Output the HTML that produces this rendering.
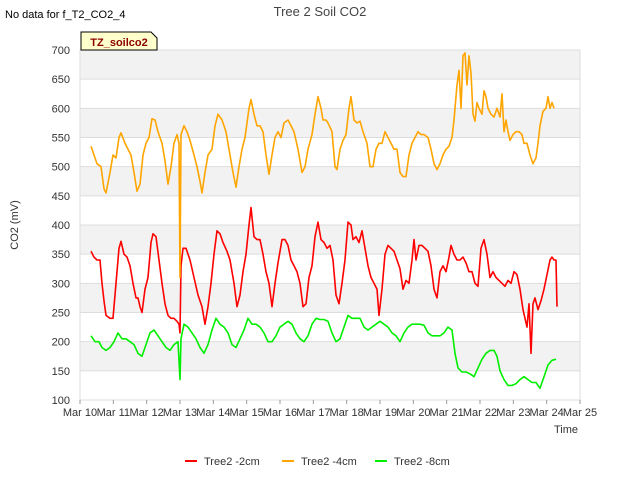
<!DOCTYPE html>
<html><head><meta charset="utf-8"><style>
body{margin:0;background:#fff;font-family:"Liberation Sans",sans-serif}
svg text{font-family:"Liberation Sans",sans-serif}
</style></head><body>
<svg id="c" width="640" height="480" xmlns="http://www.w3.org/2000/svg">
<text x="5" y="18" font-size="11" fill="#000">No data for f_T2_CO2_4</text>
<text x="320" y="16" font-size="13" fill="#444" text-anchor="middle">Tree 2 Soil CO2</text>
<g id="plot"></g>
<text transform="translate(18,225) rotate(-90)" font-size="11" fill="#333" text-anchor="middle">CO2 (mV)</text>
<text x="566" y="433" font-size="11" fill="#333" text-anchor="middle">Time</text>
<g>
<path d="M81,50 L81,32 L151,32 L157,38 L157,50 Z" fill="#ffffcc" stroke="#000" stroke-width="1"/>
<text x="119" y="46" font-size="11" font-weight="bold" fill="#8b0000" text-anchor="middle">TZ_soilco2</text>
</g>
<g id="legend"></g>
</svg>
<script>
const yTicks=[100,150,200,250,300,350,400,450,500,550,600,650,700];
const xTickLabels=["Mar 10","Mar 11","Mar 12","Mar 13","Mar 14","Mar 15","Mar 16","Mar 17","Mar 18","Mar 19","Mar 20","Mar 21","Mar 22","Mar 23","Mar 24","Mar 25"];
const seriesNames=["Tree2 -2cm","Tree2 -4cm","Tree2 -8cm"];
const seriesColors=["#ff0000","#ffa500","#00ee00"];
const s4cm=[[0.33,535],[0.51,505],[0.63,500],[0.72,462],[0.78,455],[0.9,490],[0.99,520],[1.08,515],[1.17,550],[1.23,558],[1.35,540],[1.44,530],[1.53,520],[1.62,490],[1.71,458],[1.8,470],[1.89,520],[1.98,540],[2.07,550],[2.16,582],[2.25,580],[2.34,560],[2.46,540],[2.55,510],[2.64,470],[2.73,500],[2.82,540],[2.91,555],[2.97,540],[3.0,310],[3.03,555],[3.12,570],[3.21,560],[3.3,545],[3.42,520],[3.51,500],[3.6,475],[3.66,455],[3.75,490],[3.84,520],[3.96,530],[4.05,570],[4.14,590],[4.26,580],[4.38,560],[4.47,530],[4.59,490],[4.68,465],[4.77,500],[4.86,530],[4.95,550],[5.07,600],[5.13,615],[5.22,590],[5.31,570],[5.4,570],[5.49,560],[5.58,520],[5.67,487],[5.76,520],[5.85,550],[5.94,560],[6.03,550],[6.12,575],[6.24,580],[6.33,570],[6.42,560],[6.54,530],[6.66,490],[6.75,500],[6.84,530],[6.96,555],[7.05,590],[7.14,620],[7.23,600],[7.29,580],[7.38,580],[7.44,575],[7.56,560],[7.65,500],[7.71,495],[7.8,530],[7.89,545],[7.98,555],[8.07,600],[8.13,620],[8.22,580],[8.31,575],[8.4,578],[8.49,560],[8.61,540],[8.7,500],[8.79,500],[8.88,530],[8.97,540],[9.06,540],[9.15,560],[9.24,550],[9.33,540],[9.42,530],[9.51,530],[9.6,490],[9.69,483],[9.78,483],[9.87,520],[9.96,540],[10.05,550],[10.14,560],[10.23,555],[10.32,555],[10.44,550],[10.53,530],[10.62,505],[10.71,495],[10.8,505],[10.89,520],[10.98,530],[11.07,535],[11.16,550],[11.22,580],[11.31,640],[11.37,665],[11.43,600],[11.49,690],[11.55,695],[11.61,640],[11.67,690],[11.73,660],[11.79,590],[11.85,578],[11.91,610],[11.97,600],[12.06,590],[12.12,630],[12.18,620],[12.24,600],[12.33,590],[12.42,585],[12.51,600],[12.6,585],[12.66,625],[12.72,560],[12.78,580],[12.84,560],[12.9,545],[12.99,555],[13.08,560],[13.17,560],[13.26,555],[13.32,540],[13.41,540],[13.5,520],[13.59,505],[13.68,515],[13.74,540],[13.8,570],[13.89,595],[13.98,600],[14.04,620],[14.1,600],[14.16,610],[14.22,600]];
const s2cm=[[0.33,355],[0.42,345],[0.51,340],[0.6,340],[0.66,300],[0.72,270],[0.78,245],[0.9,240],[0.99,240],[1.08,300],[1.17,360],[1.23,372],[1.32,350],[1.41,345],[1.5,330],[1.59,300],[1.68,275],[1.74,275],[1.8,260],[1.86,250],[1.95,290],[2.04,310],[2.13,370],[2.19,385],[2.28,380],[2.37,340],[2.46,300],[2.55,265],[2.64,245],[2.73,240],[2.82,240],[2.91,235],[2.97,230],[3.0,215],[3.03,330],[3.09,360],[3.18,360],[3.3,340],[3.42,310],[3.54,280],[3.66,260],[3.75,230],[3.84,260],[3.93,300],[4.02,350],[4.11,390],[4.2,385],[4.29,370],[4.41,355],[4.5,340],[4.62,300],[4.71,260],[4.8,280],[4.89,320],[4.98,350],[5.07,400],[5.13,430],[5.22,380],[5.31,375],[5.4,375],[5.49,350],[5.58,320],[5.67,300],[5.76,260],[5.85,300],[5.94,335],[6.06,375],[6.15,375],[6.24,365],[6.33,340],[6.42,330],[6.51,320],[6.6,300],[6.69,260],[6.78,265],[6.87,310],[6.96,330],[7.05,380],[7.14,405],[7.23,375],[7.32,370],[7.41,360],[7.5,365],[7.59,340],[7.68,280],[7.77,265],[7.86,300],[7.95,340],[8.04,405],[8.13,400],[8.19,375],[8.28,380],[8.37,370],[8.46,390],[8.55,360],[8.64,330],[8.73,310],[8.82,300],[8.91,290],[8.97,245],[9.06,290],[9.15,350],[9.24,365],[9.33,360],[9.42,355],[9.51,340],[9.6,325],[9.69,290],[9.78,305],[9.87,300],[9.96,340],[10.02,375],[10.08,340],[10.17,365],[10.26,365],[10.35,360],[10.44,355],[10.53,330],[10.62,290],[10.71,275],[10.8,320],[10.89,330],[10.98,320],[11.07,345],[11.13,365],[11.22,350],[11.31,340],[11.4,340],[11.49,345],[11.58,335],[11.67,320],[11.76,320],[11.85,300],[11.94,295],[12.03,360],[12.12,375],[12.21,350],[12.3,310],[12.39,320],[12.48,310],[12.57,305],[12.66,300],[12.75,295],[12.84,305],[12.93,300],[13.02,320],[13.11,315],[13.2,290],[13.29,255],[13.35,240],[13.41,225],[13.47,265],[13.53,180],[13.59,265],[13.65,275],[13.74,255],[13.83,270],[13.92,290],[14.01,315],[14.1,340],[14.16,345],[14.22,340],[14.28,340],[14.31,260]];
const s8cm=[[0.33,210],[0.45,200],[0.57,200],[0.66,190],[0.78,185],[0.9,190],[1.02,200],[1.14,215],[1.26,205],[1.38,205],[1.5,200],[1.62,195],[1.74,180],[1.86,175],[1.98,195],[2.1,215],[2.22,220],[2.34,210],[2.46,200],[2.58,190],[2.7,185],[2.82,195],[2.94,200],[3.0,135],[3.03,205],[3.12,230],[3.24,225],[3.36,215],[3.48,205],[3.6,190],[3.72,180],[3.84,195],[3.96,220],[4.08,240],[4.2,230],[4.32,225],[4.44,215],[4.56,195],[4.68,190],[4.8,205],[4.92,220],[5.04,240],[5.16,230],[5.28,230],[5.4,225],[5.52,215],[5.64,200],[5.76,200],[5.88,210],[6.0,225],[6.12,230],[6.24,235],[6.36,230],[6.48,215],[6.6,205],[6.72,200],[6.84,210],[6.96,230],[7.08,240],[7.2,238],[7.32,238],[7.44,235],[7.56,215],[7.68,200],[7.8,205],[7.92,225],[8.04,245],[8.16,240],[8.28,240],[8.4,240],[8.52,225],[8.64,220],[8.76,225],[8.88,230],[9.0,235],[9.12,230],[9.24,225],[9.36,215],[9.48,210],[9.6,200],[9.72,215],[9.84,225],[9.96,230],[10.08,230],[10.2,230],[10.32,228],[10.44,215],[10.56,210],[10.68,210],[10.8,210],[10.92,215],[11.04,225],[11.16,220],[11.25,180],[11.34,155],[11.46,148],[11.58,148],[11.7,145],[11.82,140],[11.94,155],[12.06,170],[12.18,180],[12.3,185],[12.42,185],[12.51,175],[12.6,150],[12.72,135],[12.84,125],[12.96,125],[13.08,128],[13.2,135],[13.32,140],[13.44,135],[13.56,130],[13.68,130],[13.8,120],[13.92,140],[14.04,160],[14.16,168],[14.28,170]];
const allSeries=[s2cm,s4cm,s8cm];
const NS="http://www.w3.org/2000/svg";
const L=80,R=580,T=50,B=400,yMin=100,yMax=700,xMin=0,xMax=15;
const xs=t=>L+(t-xMin)/(xMax-xMin)*(R-L);
const ys=v=>B-(v-yMin)/(yMax-yMin)*(B-T);
const plot=document.getElementById('plot');
function mk(tag,attrs,parent){const e=document.createElementNS(NS,tag);for(const k in attrs)e.setAttribute(k,attrs[k]);parent.appendChild(e);return e;}
for(let i=0;i<yTicks.length-1;i++){
  const band=mk('rect',{x:L,y:ys(yTicks[i+1]),width:R-L,height:ys(yTicks[i])-ys(yTicks[i+1]),fill:(i%2==1)?'#f2f2f2':'#ffffff'},plot);
  
  
}
yTicks.forEach(v=>{
  const g=mk('line',{x1:L,x2:R,y1:ys(v),y2:ys(v),stroke:'#dddddd','stroke-width':1},plot);
  
  
  const t=mk('text',{x:L-10,y:ys(v)+4,'font-size':11,fill:'#333','text-anchor':'end'},plot);
  t.textContent=v;
  
  
});
const frame=mk('rect',{x:L,y:T,width:R-L,height:B-T,fill:'none',stroke:'#dddddd'},plot);


xTickLabels.forEach((lab,i)=>{
  const tk=mk('line',{x1:xs(i),x2:xs(i),y1:B,y2:B+4,stroke:'#999'},plot);
  
  
  const t=mk('text',{x:xs(i),y:B+16,'font-size':11,fill:'#333','text-anchor':'middle'},plot);
  t.textContent=lab;
  
  
});
allSeries.forEach((s,i)=>{
  const d=s.map((p,j)=>(j?'L':'M')+xs(p[0]).toFixed(1)+','+ys(p[1]).toFixed(1)).join(' ');
  const p=mk('path',{d:d,fill:'none',stroke:seriesColors[i],'stroke-width':1.6,'stroke-linejoin':'round'},plot);
  
  
});
const leg=document.getElementById('legend');
const legX=[185,282,375];
seriesNames.forEach((n,i)=>{
  const g=mk('g',{},leg);
  
  
  mk('line',{x1:legX[i],x2:legX[i]+12,y1:461,y2:461,stroke:seriesColors[i],'stroke-width':2},g);
  const t=mk('text',{x:legX[i]+19,y:465,'font-size':11,fill:'#333'},g);
  t.textContent=n;
});
</script>
</body></html>
